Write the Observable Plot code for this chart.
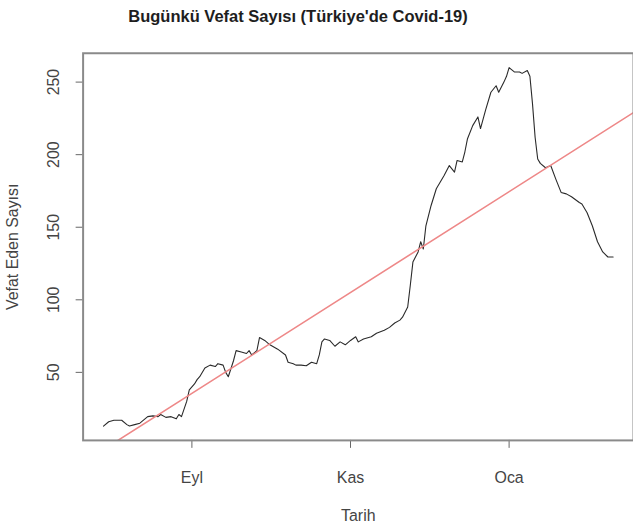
<!DOCTYPE html>
<html>
<head>
<meta charset="utf-8">
<script src="https://cdn.jsdelivr.net/npm/d3@7"></script>
<script src="https://cdn.jsdelivr.net/npm/@observablehq/plot@0.6"></script>
<style>
  html, body { margin: 0; padding: 0; background: #fff; overflow: hidden; }
  #wrap { position: relative; width: 633px; height: 526px; overflow: hidden; }
  #title { position: absolute; left: 0; top: 6px; width: 596px; text-align: center;
           font: bold 16.5px "Liberation Sans", Arial, sans-serif; color: #1e1e1e; line-height: 20px; }
  #chart { position: absolute; left: 0; top: 0; }
</style>
</head>
<body>
<div id="wrap">
  <div id="chart"></div>
  <div id="title">Bugünkü Vefat Sayısı (Türkiye'de Covid-19)</div>
</div>
<script>
const dates = [
  "2020-07-29","2020-07-31","2020-08-02","2020-08-05","2020-08-07","2020-08-08","2020-08-10","2020-08-12",
  "2020-08-15","2020-08-17","2020-08-19","2020-08-20","2020-08-22","2020-08-24","2020-08-26","2020-08-27",
  "2020-08-28","2020-08-30","2020-08-31","2020-09-02","2020-09-03","2020-09-04","2020-09-06","2020-09-08",
  "2020-09-10","2020-09-11","2020-09-13","2020-09-14","2020-09-15","2020-09-17","2020-09-18","2020-09-20",
  "2020-09-22","2020-09-23","2020-09-24","2020-09-26","2020-09-27","2020-09-29","2020-10-01","2020-10-04",
  "2020-10-07","2020-10-08","2020-10-10","2020-10-11","2020-10-13","2020-10-15","2020-10-17","2020-10-19",
  "2020-10-20","2020-10-21","2020-10-22","2020-10-24","2020-10-26","2020-10-28","2020-10-30","2020-11-01",
  "2020-11-03","2020-11-04","2020-11-06","2020-11-09","2020-11-11","2020-11-14","2020-11-16","2020-11-18",
  "2020-11-20","2020-11-21","2020-11-23","2020-11-24","2020-11-25","2020-11-27","2020-11-28","2020-11-29",
  "2020-11-30","2020-12-02","2020-12-04","2020-12-07","2020-12-09","2020-12-11","2020-12-12","2020-12-14",
  "2020-12-15","2020-12-16","2020-12-18","2020-12-20","2020-12-21","2020-12-23","2020-12-25","2020-12-27",
  "2020-12-28","2020-12-30","2020-12-31","2021-01-01","2021-01-03","2021-01-05","2021-01-06","2021-01-08",
  "2021-01-09","2021-01-10","2021-01-11","2021-01-12","2021-01-13","2021-01-15","2021-01-17","2021-01-19",
  "2021-01-21","2021-01-23","2021-01-25","2021-01-28","2021-01-29","2021-01-31","2021-02-02","2021-02-04",
  "2021-02-06","2021-02-08","2021-02-10"
];
const deaths = [
  13, 16, 17, 17, 14, 13, 14, 15,
  19.5, 20, 19.5, 21, 19, 19.5, 18, 21,
  19.5, 30, 38, 42, 45, 47, 53, 55,
  54, 56, 55, 50, 47, 58, 65, 64,
  63, 65, 62, 65, 74, 72, 69, 66,
  62, 57, 56, 55, 55, 54.6, 57, 56,
  62, 71, 73, 72, 68, 71, 69, 72,
  74.5, 71, 73, 74.5, 77, 79, 81, 84,
  86, 88, 95, 110, 126, 133, 140, 135,
  151, 165, 176.5, 185.6, 192.5, 188, 196, 195,
  202, 211, 220, 226, 218, 231, 243, 247.5,
  243, 250, 254, 260, 257, 257, 256, 258,
  254, 235, 212, 197, 194, 191, 192.5, 183,
  174, 173, 171, 167, 166, 160, 151, 140,
  133, 129.5, 129.5
];
// fitted trend line, drawn across the whole panel
const trendDates = ["2020-07-21", "2021-02-18"];
const trendValues = [-12.3, 229.2];

const xTickDates = ["2020-09-01", "2020-11-01", "2021-01-01"];
const xTickLabels = ["Eyl", "Kas", "Oca"];
const yTicks = [50, 100, 150, 200, 250];

const parse = d3.utcParse("%Y-%m-%d");
const series = dates.map((d, i) => ({date: parse(d), value: deaths[i]}));
const trend = trendDates.map((d, i) => ({date: parse(d), value: trendValues[i]}));
const tickDates = xTickDates.map(parse);
const labelOf = new Map(tickDates.map((d, i) => [+d, xTickLabels[i]]));

// R-style 4% padded domains
function pad(ext) { const r = ext[1] - ext[0]; return [ext[0] - 0.04 * r, ext[1] + 0.04 * r]; }
const xe = d3.extent(series, d => +d.date);
const xd = pad(xe).map(v => new Date(v));
const yd = pad(d3.extent(series, d => d.value));

const font = '"Liberation Sans", Arial, sans-serif';
const chart = Plot.plot({
  width: 636,
  height: 526,
  marginLeft: 83,
  marginRight: 0,
  marginTop: 53,
  marginBottom: 84,
  style: {fontFamily: font, fontSize: "16px", color: "#444", background: "#fff", overflow: "visible"},
  x: {type: "utc", domain: xd},
  y: {domain: yd},
  marks: [
    Plot.axisX({ticks: tickDates, tickFormat: d => labelOf.get(+d), tickSize: 8, tickPadding: 23,
                stroke: "#666", fill: "#444", label: "Tarih", labelAnchor: "center", labelOffset: 81, labelArrow: "none"}),
    Plot.axisY({ticks: yTicks, tickSize: 7, tickPadding: 17, tickRotate: -90, stroke: "#666", fill: "#444",
                label: "Vefat Eden Sayısı", labelAnchor: "center", labelOffset: 77, labelArrow: "none"}),
    Plot.line(series, {x: "date", y: "value", stroke: "#2a2a2a", strokeWidth: 1.1}),
    Plot.line(trend, {x: "date", y: "value", stroke: "#ee8888", strokeWidth: 1.6, clip: true}),
    Plot.frame({stroke: "#8a8a8a", strokeWidth: 2})
  ]
});
document.getElementById("chart").appendChild(chart);
</script>
</body>
</html>
